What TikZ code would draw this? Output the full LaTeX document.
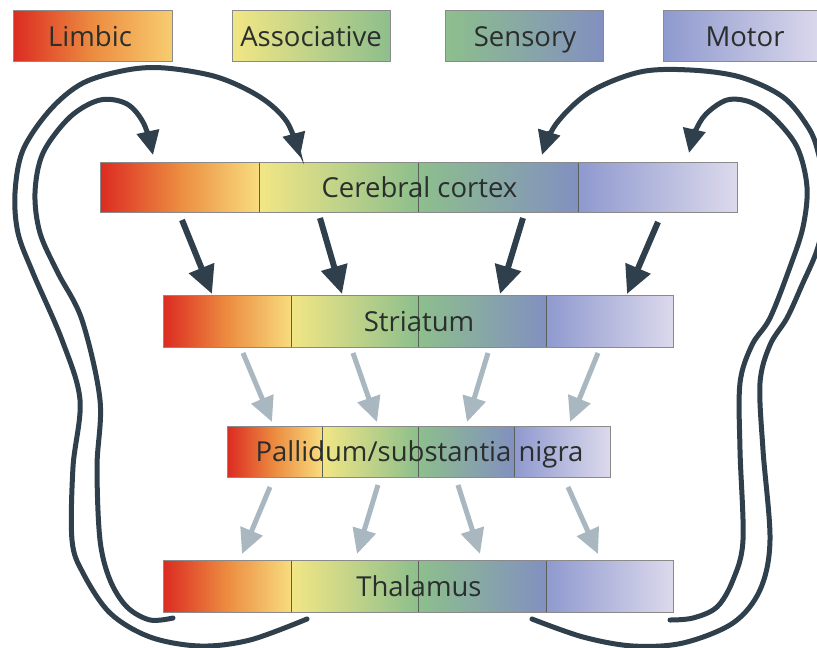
\documentclass[tikz,border=0pt]{standalone}
\usepackage{fontspec}
\setmainfont{Open Sans}
\usetikzlibrary{arrows.meta,calc}
\definecolor{cRed}{HTML}{DC2B22}
\definecolor{cOrange}{HTML}{EC8C40}
\definecolor{cPale}{HTML}{F8DC7E}
\definecolor{cPaleO}{HTML}{F8CC70}
\definecolor{cYellow}{HTML}{F2E685}
\definecolor{cGreen}{HTML}{8DBF8C}
\definecolor{cBlue}{HTML}{8290C0}
\definecolor{cBlueB}{HTML}{8E99CE}
\definecolor{cLav}{HTML}{DCD9EC}
\definecolor{darkarrow}{HTML}{2F404C}
\definecolor{lightarrow}{HTML}{A9B7C1}
\definecolor{txt}{HTML}{2A2E2C}
\definecolor{rim}{HTML}{8A8A8A}
\definecolor{divline}{HTML}{5A5F5A}
\tikzset{
  bartext/.style={text=txt, font=\fontsize{27.5}{30}\selectfont, inner sep=0pt, anchor=base},
  barframe/.style={draw=rim, line width=1pt, inner sep=0pt},
  divider/.style={draw=divline, line width=0.9pt},
  darkarr/.style={draw=darkarrow, line width=6pt, -{Triangle[length=28pt,width=26pt]}},
  lightarr/.style={draw=lightarrow, line width=5pt, -{Triangle[length=25pt,width=23pt]}},
  loopline/.style={draw=darkarrow, line width=5pt, line cap=round, -{Triangle[length=24pt,width=22pt]}},
}
% #1 name, #2-#6 x positions, #7 top, #8 bottom, #9 label
\newcommand\gradbar[9]{%
  \shade[left color=cRed, right color=cPale, middle color=cOrange] (#2,#7) rectangle (#3,#8);
  \shade[left color=cYellow, right color=cGreen] (#3,#7) rectangle (#4,#8);
  \shade[left color=cGreen, right color=cBlue] (#4,#7) rectangle (#5,#8);
  \shade[left color=cBlueB, right color=cLav] (#5,#7) rectangle (#6,#8);
  \draw[divider] (#3,#7) -- (#3,#8);
  \draw[divider] (#4,#7) -- (#4,#8);
  \draw[divider] (#5,#7) -- (#5,#8);
  \node[barframe, minimum width={(#6-#2)*1pt}, minimum height={(#8-#7)*1pt}] (#1) at ({(#2+#6)/2},{(#7+#8)/2}) {};
  \node[bartext] (#1-label) at ($(#1.center)+(1,10)$) {#9};
}
\begin{document}
\begin{tikzpicture}[x=1pt,y=-1pt]
\useasboundingbox (0,0) rectangle (817,648);
\clip (0,0) rectangle (817,648);
\fill[white] (0,0) rectangle (817,648);

% legend
\shade[left color=cRed, right color=cPaleO, middle color=cOrange] (13,10) rectangle (172,61);
\node[barframe, minimum width=159pt, minimum height=51pt] (legL) at (92.5,35.5) {};
\node[bartext] (legLt) at (90,46) {Limbic};
\shade[left color=cYellow, right color=cGreen] (232,10) rectangle (390,61);
\node[barframe, minimum width=158pt, minimum height=51pt] (legA) at (311,35.5) {};
\node[bartext] (legAt) at (311,46) {Associative};
\shade[left color=cGreen, right color=cBlue] (445,10) rectangle (603,61);
\node[barframe, minimum width=158pt, minimum height=51pt] (legS) at (524,35.5) {};
\node[bartext] (legSt) at (525,46) {Sensory};
\shade[left color=cBlueB, right color=cLav] (663,10) rectangle (822,61);
\node[barframe, minimum width=159pt, minimum height=51pt] (legM) at (742.5,35.5) {};
\node[bartext] (legMt) at (745,46) {Motor};

% bars
\gradbar{cortex}{100}{259}{418}{578}{737}{162}{212}{Cerebral cortex}
\gradbar{striatum}{163}{291}{418}{546}{673}{295}{347}{Striatum}
\gradbar{pallidum}{227}{322}{418}{514}{610}{426}{477}{Pallidum/substantia nigra}
\gradbar{thalamus}{163}{291}{418}{546}{673}{560}{612}{Thalamus}

% cortex -> striatum
\coordinate (cs1a) at (182,220); \coordinate (cs1b) at (212,294);
\coordinate (cs2a) at (320,218); \coordinate (cs2b) at (342,294);
\coordinate (cs3a) at (523,218); \coordinate (cs3b) at (500,294);
\coordinate (cs4a) at (658,222); \coordinate (cs4b) at (627,294);
\draw[darkarr] (cs1a) -- (cs1b);
\draw[darkarr] (cs2a) -- (cs2b);
\draw[darkarr] (cs3a) -- (cs3b);
\draw[darkarr] (cs4a) -- (cs4b);

% striatum -> pallidum
\coordinate (sp1a) at (243,353); \coordinate (sp1b) at (272,422);
\coordinate (sp2a) at (353,353); \coordinate (sp2b) at (377,422);
\coordinate (sp3a) at (488,353); \coordinate (sp3b) at (467,422);
\coordinate (sp4a) at (598,353); \coordinate (sp4b) at (570,422);
\draw[lightarr] (sp1a) -- (sp1b);
\draw[lightarr] (sp2a) -- (sp2b);
\draw[lightarr] (sp3a) -- (sp3b);
\draw[lightarr] (sp4a) -- (sp4b);

% pallidum -> thalamus
\coordinate (pt1a) at (270,487); \coordinate (pt1b) at (242,554);
\coordinate (pt2a) at (378,485); \coordinate (pt2b) at (357,554);
\coordinate (pt3a) at (458,485); \coordinate (pt3b) at (480,554);
\coordinate (pt4a) at (568,487); \coordinate (pt4b) at (598,554);
\draw[lightarr] (pt1a) -- (pt1b);
\draw[lightarr] (pt2a) -- (pt2b);
\draw[lightarr] (pt3a) -- (pt3b);
\draw[lightarr] (pt4a) -- (pt4b);

% loops thalamus -> cortex
\coordinate (lo0) at (307,619); \coordinate (lo1) at (300,157);
\coordinate (li0) at (173,618); \coordinate (li1) at (153,155);
\coordinate (ro0) at (532,619); \coordinate (ro1) at (542,155);
\coordinate (ri0) at (670,620); \coordinate (ri1) at (689,153);

\draw[loopline] plot[smooth, tension=0.55] coordinates {(lo0) (250,640) (200,646) (150,637) (110,613) (83,573) (72,540) (73,467) (80,400) (62,340) (33,273) (18,233) (15,193) (23,150) (50,110) (83,83) (127,70) (165,68) (217,77) (260,97) (287,122) (lo1)};
\draw[loopline] plot[smooth, tension=0.55] coordinates {(li0) (150,620) (127,607) (110,580) (100,540) (97,467) (100,400) (82,320) (58,273) (40,233) (35,193) (43,153) (70,117) (100,100) (127,104) (144,124) (li1)};
\draw[loopline] plot[smooth, tension=0.55] coordinates {(ro0) (583,637) (633,646) (683,643) (733,623) (760,590) (770,540) (763,450) (760,383) (770,345) (787,318) (802,285) (818,247) (827,200) (818,152) (808,127) (783,97) (740,77) (690,70) (640,72) (590,92) (556,124) (ro1)};
\draw[loopline] plot[smooth, tension=0.55] coordinates {(ri0) (693,618) (717,607) (733,580) (743,540) (740,450) (740,383) (752,345) (770,318) (790,267) (803,227) (807,187) (797,147) (773,117) (750,102) (727,100) (706,114) (695,132) (ri1)};
\end{tikzpicture}
\end{document}
